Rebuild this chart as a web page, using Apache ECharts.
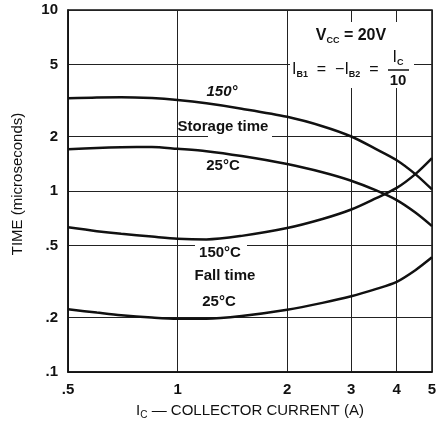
<!DOCTYPE html>
<html>
<head>
<meta charset="utf-8">
<script src="https://cdn.jsdelivr.net/npm/echarts@6/dist/echarts.min.js"></script>
<style>
  html, body { margin: 0; padding: 0; background: #fff; }
  #main { width: 436px; height: 421px; }
</style>
</head>
<body>
<div id="main"></div>
<script>
// collector current (A)
var currents = [0.5, 0.6, 0.7, 0.85, 1, 1.2, 1.5, 2, 2.5, 3, 3.5, 4, 4.5, 5];
// switching times (microseconds)
var storage150 = [3.25, 3.29, 3.3, 3.26, 3.18, 3.05, 2.85, 2.57, 2.28, 2.0, 1.71, 1.48, 1.24, 1.02];
var storage25 = [1.70, 1.73, 1.745, 1.75, 1.71, 1.66, 1.56, 1.41, 1.27, 1.14, 1.01, 0.89, 0.76, 0.64];
var fall150 = [0.63, 0.60, 0.58, 0.56, 0.545, 0.54, 0.565, 0.624, 0.70, 0.79, 0.91, 1.04, 1.24, 1.52];
var fall25 = [0.222, 0.213, 0.206, 0.200, 0.197, 0.197, 0.204, 0.221, 0.241, 0.262, 0.287, 0.315, 0.365, 0.43];
// tick labels
var xTicks = [0.5, 1, 2, 3, 4, 5];
var yTicks = [0.1, 0.2, 0.5, 1, 2, 5, 10];

var FONT = '"Liberation Sans", Arial, sans-serif';
var INK = '#111';

function fmt(v) {
  v = Math.round(v * 100) / 100;
  return v < 1 ? String(v).slice(1) : String(v);
}
function pairs(ys) {
  return currents.map(function (c, i) { return [c, ys[i]]; });
}
function curve(name, ys) {
  return {
    name: name,
    type: 'line',
    smooth: 0.3,
    symbol: 'none',
    lineStyle: { color: INK, width: 2.5 },
    data: pairs(ys)
  };
}
function txt(x, y, text, opts) {
  opts = opts || {};
  return {
    type: 'text', x: x, y: y, z: 10,
    style: {
      text: text,
      fill: INK,
      font: (opts.style || '') + ' ' + (opts.weight || 'bold') + ' ' + (opts.size || 14) + 'px ' + FONT,
      align: opts.align || 'center',
      verticalAlign: 'middle',
      rich: opts.rich
    },
    rotation: opts.rotation || 0
  };
}
function blank(x, y, w, h) {
  return { type: 'rect', z: 1, shape: { x: x, y: y, width: w, height: h }, style: { fill: '#fff' } };
}

var chart = echarts.init(document.getElementById('main'));
var subRich = { s: { fontSize: 9, fontFamily: FONT, fontWeight: 'bold', fill: INK, padding: [9, 0, 0, 0] } };

var option = {
  animation: false,
  backgroundColor: '#fff',
  grid: {
    left: 68, right: 4, top: 10, bottom: 49,
    outerBoundsMode: 'none', containLabel: false,
    show: true, borderColor: INK, borderWidth: 1.5
  },
  xAxis: {
    type: 'log', logBase: 10, min: 0.5, max: 5,
    axisLine: { show: true, lineStyle: { color: INK, width: 1.5 } },
    axisTick: { show: false, customValues: xTicks },
    axisLabel: { customValues: xTicks, formatter: fmt, margin: 10, color: INK, fontSize: 15, fontWeight: 'bold', fontFamily: FONT },
    splitLine: { show: true, lineStyle: { color: '#222', width: 1 } },
    name: 'I{s|C} — COLLECTOR CURRENT (A)',
    nameLocation: 'middle',
    nameGap: 29,
    nameTextStyle: {
      color: INK, fontSize: 15, fontFamily: FONT,
      rich: { s: { fontSize: 10, fontFamily: FONT, color: INK, padding: [9, 0, 0, 0] } }
    }
  },
  yAxis: {
    type: 'log', logBase: 10, min: 0.1, max: 10,
    axisLine: { show: true, lineStyle: { color: INK, width: 1.5 } },
    axisTick: { show: false, customValues: yTicks },
    axisLabel: { customValues: yTicks, formatter: fmt, margin: 10, color: INK, fontSize: 15, fontWeight: 'bold', fontFamily: FONT },
    splitLine: { show: true, lineStyle: { color: '#222', width: 1 } }
  },
  graphic: [
    // gaps in the grid behind the annotations
    blank(208, 132, 64, 8),
    blank(195, 241, 52, 8),
    blank(290, 22, 124, 66),
    // annotation texts
    txt(18, 184, 'TIME (microseconds)', { weight: 'normal', size: 15, rotation: Math.PI / 2 }),
    txt(222, 92, '150°', { style: 'italic', size: 15 }),
    txt(223, 127, 'Storage time', { size: 15 }),
    txt(223, 166, '25°C', { size: 15 }),
    txt(220, 253, '150°C', { size: 15 }),
    txt(225, 276, 'Fall time', { size: 15 }),
    txt(219, 302, '25°C', { size: 15 }),
    txt(351, 36, 'V{s|CC} = 20V', { weight: 'bold', size: 16, rich: subRich }),
    txt(292, 70, 'I{s|B1}  =  −I{s|B2}  =', { weight: 'normal', size: 16, align: 'left', rich: subRich }),
    txt(398, 58, 'I{s|C}', { weight: 'normal', size: 16, rich: subRich }),
    { type: 'line', z: 10, shape: { x1: 388, y1: 70, x2: 409, y2: 70 }, style: { stroke: INK, lineWidth: 1.5 } },
    txt(398, 81, '10', { size: 15 })
  ],
  series: [
    curve('Storage 150', storage150),
    curve('Storage 25', storage25),
    curve('Fall 150', fall150),
    curve('Fall 25', fall25)
  ]
};
chart.setOption(option);
</script>
</body>
</html>
